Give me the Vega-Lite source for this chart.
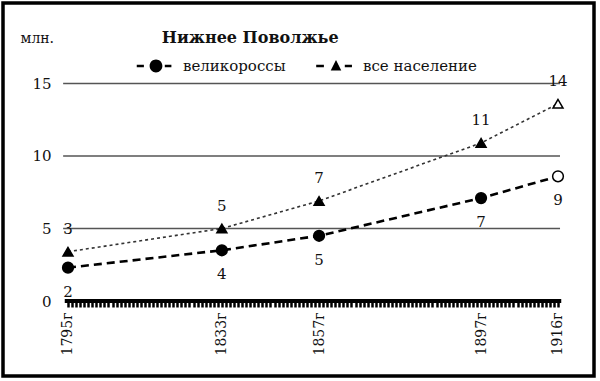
{
  "$schema": "https://vega.github.io/schema/vega-lite/v6.json",
  "autosize": "none",
  "width": 591,
  "height": 373,
  "padding": {"left": 3, "top": 3, "right": 6, "bottom": 5},
  "background": "white",
  "config": {
    "font": "DejaVu Serif",
    "view": {"stroke": "black", "strokeWidth": 3.5}
  },
  "datasets": {
    "pop": [
      {"year": 1795, "series": "великороссы", "value": 2.3},
      {"year": 1833, "series": "великороссы", "value": 3.5},
      {"year": 1857, "series": "великороссы", "value": 4.5},
      {"year": 1897, "series": "великороссы", "value": 7.1},
      {"year": 1916, "series": "великороссы", "value": 8.6},
      {"year": 1795, "series": "все население", "value": 3.4},
      {"year": 1833, "series": "все население", "value": 5.0},
      {"year": 1857, "series": "все население", "value": 6.9},
      {"year": 1897, "series": "все население", "value": 10.9},
      {"year": 1916, "series": "все население", "value": 13.6}
    ],
    "grid": [
      {"value": 5, "year": 1793.8, "year2": 1916.5},
      {"value": 10, "year": 1793.8, "year2": 1916.5},
      {"value": 15, "year": 1793.8, "year2": 1916.5}
    ],
    "base": [{"value": 0, "year": 1794.2, "year2": 1916.8}],
    "heading": [{"t": "Нижнее Поволжье", "year": 1840, "value": 17.8}]
  },
  "encoding": {
    "y": {
      "field": "value",
      "type": "quantitative",
      "scale": {"domain": [-5.17, 20.55], "nice": false, "zero": false},
      "axis": {
        "values": [0, 5, 10, 15],
        "offset": -48,
        "domain": false,
        "ticks": false,
        "grid": false,
        "labelPadding": 0,
        "labelFont": "DejaVu Serif",
        "labelFontSize": 15,
        "labelColor": "#111",
        "labelBaseline": "middle",
        "title": "млн.",
        "titleFont": "DejaVu Serif",
        "titleAngle": 0,
        "titleAlign": "left",
        "titleBaseline": "alphabetic",
        "titleX": -31,
        "titleY": 39,
        "titleFontSize": 14,
        "titleFontWeight": "normal",
        "titleColor": "#111"
      }
    },
    "x": {
      "field": "year",
      "type": "quantitative",
      "scale": {"domain": [1778.95, 1924.89], "nice": false, "zero": false},
      "axis": {
        "orient": "bottom",
        "offset": -75,
        "title": null,
        "domain": false,
        "grid": false,
        "values": [1795,1796,1797,1798,1799,1800,1801,1802,1803,1804,1805,1806,1807,1808,1809,1810,1811,1812,1813,1814,1815,1816,1817,1818,1819,1820,1821,1822,1823,1824,1825,1826,1827,1828,1829,1830,1831,1832,1833,1834,1835,1836,1837,1838,1839,1840,1841,1842,1843,1844,1845,1846,1847,1848,1849,1850,1851,1852,1853,1854,1855,1856,1857,1858,1859,1860,1861,1862,1863,1864,1865,1866,1867,1868,1869,1870,1871,1872,1873,1874,1875,1876,1877,1878,1879,1880,1881,1882,1883,1884,1885,1886,1887,1888,1889,1890,1891,1892,1893,1894,1895,1896,1897,1898,1899,1900,1901,1902,1903,1904,1905,1906,1907,1908,1909,1910,1911,1912,1913,1914,1915,1916],
        "labelExpr": "indexof([1795,1833,1857,1897,1916], datum.value) >= 0 ? datum.value + 'г' : ''",
        "labelAngle": -90,
        "labelAlign": "right",
        "labelBaseline": "middle",
        "labelPadding": 5,
        "labelFont": "DejaVu Serif",
        "labelFontSize": 14,
        "labelColor": "#111",
        "labelOverlap": false,
        "labelFlush": false,
        "tickSize": 6,
        "tickWidth": 2.5,
        "tickColor": "black"
      }
    }
  },
  "layer": [
    {
      "data": {"name": "grid"},
      "mark": {"type": "rule", "color": "#555", "strokeWidth": 1.4},
      "encoding": {"x2": {"field": "year2"}}
    },
    {
      "data": {"name": "base"},
      "mark": {"type": "rule", "color": "black", "strokeWidth": 4},
      "encoding": {"x2": {"field": "year2"}}
    },
    {
      "data": {"name": "pop"},
      "transform": [{"filter": "datum.series == 'все население'"}],
      "mark": {"type": "line", "color": "#333", "strokeWidth": 1.6, "strokeDash": [3, 3]},
      "encoding": {}
    },
    {
      "data": {"name": "pop"},
      "transform": [{"filter": "datum.series == 'великороссы'"}],
      "mark": {"type": "line", "color": "black", "strokeWidth": 2.6, "strokeDash": [8, 5]},
      "encoding": {}
    },
    {
      "data": {"name": "pop"},
      "transform": [{"filter": "datum.series == 'великороссы'"}],
      "mark": {"type": "point", "shape": "circle", "filled": true, "size": 115, "stroke": "black", "strokeWidth": 1.5, "opacity": 1},
      "encoding": {
        "fill": {"condition": {"test": "datum.year == 1916", "value": "white"}, "value": "black"}
      }
    },
    {
      "data": {"name": "pop"},
      "transform": [{"filter": "datum.series == 'все население'"}],
      "mark": {"type": "point", "shape": "triangle-up", "filled": true, "size": 100, "stroke": "black", "strokeWidth": 1.5, "opacity": 1},
      "encoding": {
        "fill": {"condition": {"test": "datum.year == 1916", "value": "white"}, "value": "black"}
      }
    },
    {
      "data": {"name": "pop"},
      "transform": [{"filter": "datum.series == 'великороссы'"}],
      "mark": {"type": "text", "dy": 24, "font": "DejaVu Serif", "fontSize": 15, "color": "#111", "baseline": "middle"},
      "encoding": {"text": {"field": "value", "type": "quantitative", "format": ".0f"}}
    },
    {
      "data": {"name": "pop"},
      "transform": [{"filter": "datum.series == 'все население'"}],
      "mark": {"type": "text", "dy": -23, "font": "DejaVu Serif", "fontSize": 15, "color": "#111", "baseline": "middle"},
      "encoding": {"text": {"field": "value", "type": "quantitative", "format": ".0f"}}
    },
    {
      "data": {"name": "heading"},
      "mark": {"type": "text", "font": "DejaVu Serif", "fontSize": 16, "fontWeight": "bold", "color": "#111", "baseline": "alphabetic", "align": "center"},
      "encoding": {"text": {"field": "t"}}
    },
    {
      "data": {"name": "pop"},
      "transform": [{"filter": "false"}],
      "mark": {"type": "point", "filled": true, "color": "black"},
      "encoding": {
        "shape": {
          "field": "series",
          "type": "nominal",
          "scale": {
            "domain": ["великороссы", "все население"],
            "range": [
              "M-1.75,-0.11H-1.1V0.11H-1.75ZM0.8,-0.11H1.4V0.11H0.8ZM-0.58,0A0.58,0.58 0 1,0 0.58,0A0.58,0.58 0 1,0 -0.58,0Z",
              "M-1.8,-0.11H-1.1V0.11H-1.8ZM0.8,-0.11H1.45V0.11H0.8ZM0,-0.55L0.48,0.4L-0.48,0.4Z"
            ]
          },
          "legend": {
            "title": null,
            "orient": "none",
            "legendX": 142,
            "legendY": 52,
            "direction": "horizontal",
            "symbolSize": 484,
            "labelFont": "DejaVu Serif",
            "labelFontSize": 15,
            "labelColor": "#111",
            "labelOffset": 16,
            "columnPadding": 30,
            "symbolFillColor": "black",
            "symbolStrokeColor": "black",
            "symbolStrokeWidth": 0,
            "symbolOpacity": 1
          }
        }
      }
    }
  ]
}
